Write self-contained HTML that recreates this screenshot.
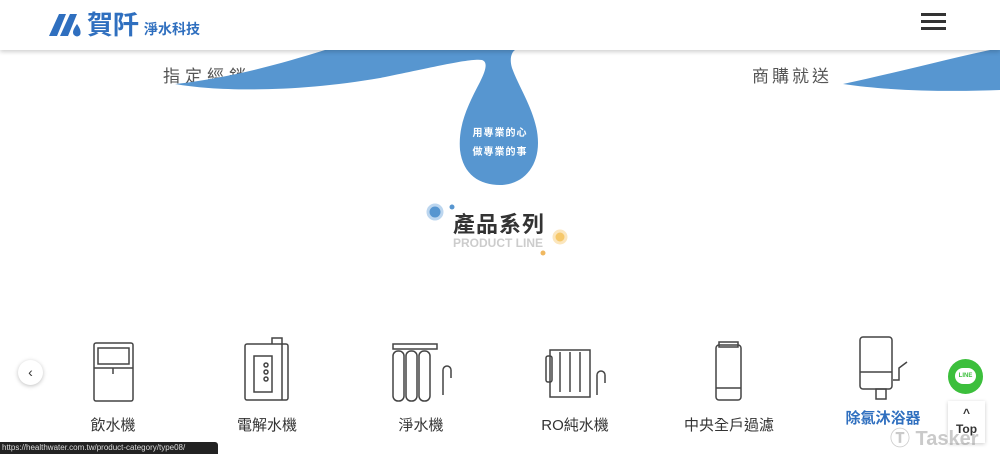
<!DOCTYPE html>
<html><head><meta charset="utf-8"><style>
*{margin:0;padding:0;box-sizing:border-box}
body{width:1000px;height:454px;overflow:hidden;background:#fff;font-family:"Liberation Sans","Noto Sans CJK TC",sans-serif;position:relative}
.hdr{position:absolute;left:0;top:0;width:1000px;height:50px;background:#fff;box-shadow:0 2px 4px rgba(0,0,0,.18);z-index:5}
.abs{position:absolute}
.lbl{position:absolute;top:414px;width:140px;text-align:center;font-size:15px;color:#333}
</style></head><body>
<div class="abs" style="left:163px;top:62px;font-size:17px;letter-spacing:5px;color:#555">指定經銷</div>
<div class="abs" style="left:752px;top:62px;font-size:17px;letter-spacing:3px;color:#555">商購就送</div>
<svg class="abs" style="left:0;top:0" width="1000" height="454">
<path d="M175,84 C220,92 300,92 380,78 C430,68 470,58 482,60 C488,62 486,70 480,82 C468,105 458,125 460,150 C463,175 480,185 500,185 C522,185 538,168 538,143 C538,115 520,90 512,68 C509,58 512,52 515,50 L325,50 C280,64 230,78 175,84 Z" fill="#5796d0"/>
<path d="M843,84 C900,72 950,58 1000,48 L1000,90 C950,92 890,91 843,84 Z" fill="#5796d0"/>
<circle cx="435" cy="212" r="7" fill="#5796d0" stroke="#bcd6ef" stroke-width="3"/>
<circle cx="452" cy="207" r="2.5" fill="#5796d0"/>
<circle cx="560" cy="237" r="6" fill="#f6c86a" stroke="#fbe6bd" stroke-width="3"/>
<circle cx="543" cy="253" r="2.5" fill="#f0b860"/>
<g fill="none" stroke="#444" stroke-width="1.5">
<rect x="94" y="343" width="39" height="58" rx="2"/><line x1="94" y1="368" x2="133" y2="368"/><rect x="98" y="348" width="31" height="16"/><line x1="113" y1="368" x2="113" y2="374"/>
<rect x="245" y="344" width="43" height="56" rx="2"/><rect x="254" y="356" width="18" height="36"/><circle cx="266" cy="365" r="2"/><circle cx="266" cy="372" r="2"/><circle cx="266" cy="379" r="2"/><path d="M272,344 v-6 h10 v62"/>
<rect x="393" y="344" width="44" height="5"/><rect x="393" y="351" width="11" height="50" rx="5"/><rect x="406" y="351" width="11" height="50" rx="5"/><rect x="419" y="351" width="11" height="50" rx="5"/><path d="M443,395 v-25 a4,4 0 0 1 8,0 v8"/>
<rect x="550" y="350" width="40" height="47"/><line x1="560" y1="352" x2="560" y2="392"/><line x1="570" y1="352" x2="570" y2="392"/><line x1="580" y1="352" x2="580" y2="392"/><rect x="546" y="356" width="6" height="26" rx="2"/><path d="M597,395 v-20 a4,4 0 0 1 8,0 v8"/>
<rect x="716" y="345" width="25" height="55" rx="3"/><line x1="716" y1="388" x2="741" y2="388"/><rect x="719" y="342" width="19" height="5"/>
<rect x="860" y="337" width="32" height="52" rx="3"/><line x1="860" y1="372" x2="892" y2="372"/><rect x="876" y="389" width="10" height="10"/><path d="M893,380 h6 v-12 l8,-6"/>
</g>
</svg>
<div class="abs" style="left:462px;top:124px;width:76px;text-align:center;color:#fff;font-size:10px;font-weight:bold;line-height:19px;letter-spacing:1px">用專業的心<br>做專業的事</div>
<div class="abs" style="left:453px;top:207px;font-size:22px;font-weight:bold;color:#333;letter-spacing:1px">產品系列</div>
<div class="abs" style="left:453px;top:236px;font-size:12px;font-weight:bold;color:#ccc">PRODUCT LINE</div>
<div class="hdr">
<div class="abs" style="left:47px;top:10px;width:38px;height:28px;">
<svg width="38" height="28"><path d="M2,26 L12,4 h7 L10,26 Z M13,26 L23,4 h7 L21,26 Z" fill="#2f6fbf"/><path d="M30,14 q-6,8 -3,11 q3,3 6,0 q2,-4 -3,-11z" fill="#2f6fbf"/></svg></div>
<div class="abs" style="left:87px;top:5px;font-size:26px;font-weight:bold;color:#2f6fbf">賀阡</div>
<div class="abs" style="left:144px;top:19px;font-size:14px;font-weight:bold;color:#2f6fbf">淨水科技</div>
<div class="abs" style="left:921px;top:13px;width:25px;height:3px;background:#333;box-shadow:0 7px 0 #333,0 14px 0 #333"></div>
</div>
<div class="abs" style="left:18px;top:360px;width:25px;height:25px;border-radius:50%;background:#fff;box-shadow:0 1px 4px rgba(0,0,0,.25);text-align:center;line-height:24px;font-size:14px;color:#333">‹</div>
<div class="lbl" style="left:43px">飲水機</div>
<div class="lbl" style="left:197px">電解水機</div>
<div class="lbl" style="left:351px">淨水機</div>
<div class="lbl" style="left:505px">RO純水機</div>
<div class="lbl" style="left:659px">中央全戶過濾</div>
<div class="lbl" style="left:813px;top:407px;color:#2f6fbf;font-weight:bold">除氯沐浴器</div>
<div class="abs" style="left:948px;top:359px;width:35px;height:35px;border-radius:50%;background:#3cbf3c;"><div style="position:absolute;left:7px;top:9px;width:21px;height:16px;border-radius:8px;background:#fff;color:#3cbf3c;font-size:6px;font-weight:bold;text-align:center;line-height:16px">LINE</div></div>
<div class="abs" style="left:948px;top:401px;width:37px;height:42px;background:#fff;box-shadow:0 1px 4px rgba(0,0,0,.2);text-align:center;font-size:12px;font-weight:bold;color:#333;line-height:16px;padding-top:4px">^<br>Top</div>
<div class="abs" style="left:890px;top:422px;font-size:20px;font-weight:bold;color:rgba(150,150,150,.5)">Ⓣ Tasker</div>
<div class="abs" style="left:0;top:442px;width:218px;height:12px;background:#222;color:#ddd;font-size:8px;line-height:12px;padding-left:2px;border-top-right-radius:3px">https://healthwater.com.tw/product-category/type08/</div>
</body></html>
